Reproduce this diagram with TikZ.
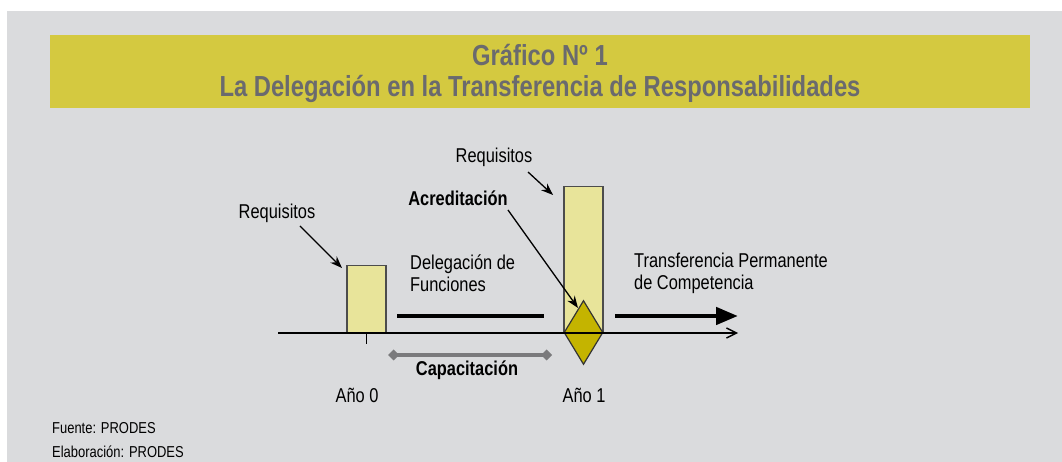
\documentclass[tikz,border=0pt]{standalone}
\usepackage{fontspec}
\setmainfont{Liberation Sans}[FakeStretch=0.82]
\usetikzlibrary{arrows.meta,shapes.geometric}
\definecolor{fondo}{HTML}{DADBDD}
\definecolor{banda}{HTML}{D4C940}
\definecolor{titulo}{HTML}{6A6A6E}
\definecolor{caja}{HTML}{E8E49A}
\definecolor{rombo}{HTML}{C4B400}
\definecolor{gris}{HTML}{7A7A7C}

\begin{document}
\begin{tikzpicture}[x=1pt,y=1pt,
    txt/.style={inner sep=0pt,font=\fontsize{20}{22}\selectfont},
    bold/.style={txt,font=\fontsize{20}{22}\selectfont\bfseries},
    bar/.style={draw=black!70,fill=caja,line width=1.2pt,inner sep=0pt,minimum width=39pt,anchor=south},
    pointer/.style={-{Stealth[length=12pt,width=9pt]},line width=1.3pt}]
  % fondo y banda de titulo
  \useasboundingbox (0,0) rectangle (1062,462);
  \fill[white] (0,0) rectangle (1062,462);
  \fill[fondo] (7,0) rectangle (1062,451);
  \fill[banda] (50,354) rectangle (1030,427);
  \node[align=center,text=titulo,font=\fontsize{29}{31}\selectfont\bfseries] (T) at (540,389)
    {Gráfico Nº 1\\La Delegación en la Transferencia de Responsabilidades};

  % cajas de requisitos y rombo de acreditacion
  \node[bar,minimum height=67pt] (B0) at (366.5,129) {};
  \node[bar,minimum height=146pt] (B1) at (583.5,129) {};
  \node[diamond,draw=black!80,fill=rombo,line width=1.2pt,inner sep=0pt,minimum width=39pt,minimum height=64pt] (D) at (583.5,129.5) {};

  % eje
  \coordinate (A0) at (278,129);
  \coordinate (A1) at (738,129);
  \draw[-{Straight Barb[length=10pt,width=10pt]},line width=1.4pt] (A0) -- (A1);
  \draw[line width=1.3pt] (B0.south) -- ++(0,-11);

  % lineas de delegacion y transferencia
  \coordinate (L0) at (397,146);
  \coordinate (L1) at (544,146);
  \coordinate (R0) at (615,146);
  \coordinate (R1) at (738,146);
  \draw[line width=4.5pt] (L0) -- (L1);
  \draw[-{Triangle[length=22pt,width=17pt]},line width=4.5pt] (R0) -- (R1);

  % capacitacion
  \coordinate (C0) at (388,107);
  \coordinate (C1) at (552,107);
  \draw[gris,{Diamond[length=11pt,width=11pt]}-{Diamond[length=11pt,width=11pt]},line width=3.5pt] (C0) -- (C1);
  \node[bold] (Cap) at (467,92) {Capacitación};

  % textos
  \node[txt] (Rq0) at (277,249) {Requisitos};
  \node[txt] (Rq1) at (494,305) {Requisitos};
  \node[bold] (Acr) at (458,264) {Acreditación};
  \node[txt,anchor=west,align=left] (Del) at (410,189) {Delegación de\\Funciones};
  \node[txt,anchor=west,align=left] (Tra) at (634,189) {Transferencia Permanente\\de Competencia};
  \node[txt] (Y0) at (357,67) {Año 0};
  \node[txt] (Y1) at (584,67) {Año 1};
  \node[txt,anchor=west,font=\fontsize{15.8}{18}\selectfont] (F1) at (52,34) {Fuente: PRODES};
  \node[txt,anchor=west,font=\fontsize{15.8}{18}\selectfont] (F2) at (52,10) {Elaboración: PRODES};

  % flechas
  \coordinate (P0) at (342,194);
  \coordinate (P1) at (553,267);
  \coordinate (P2) at (578,154);
  \draw[pointer] ([xshift=23pt,yshift=-13pt]Rq0.center) -- (P0);
  \draw[pointer] ([xshift=34pt,yshift=-15pt]Rq1.center) -- (P1);
  \draw[pointer] ([xshift=50pt,yshift=-12pt]Acr.center) -- (P2);
\end{tikzpicture}
\end{document}
